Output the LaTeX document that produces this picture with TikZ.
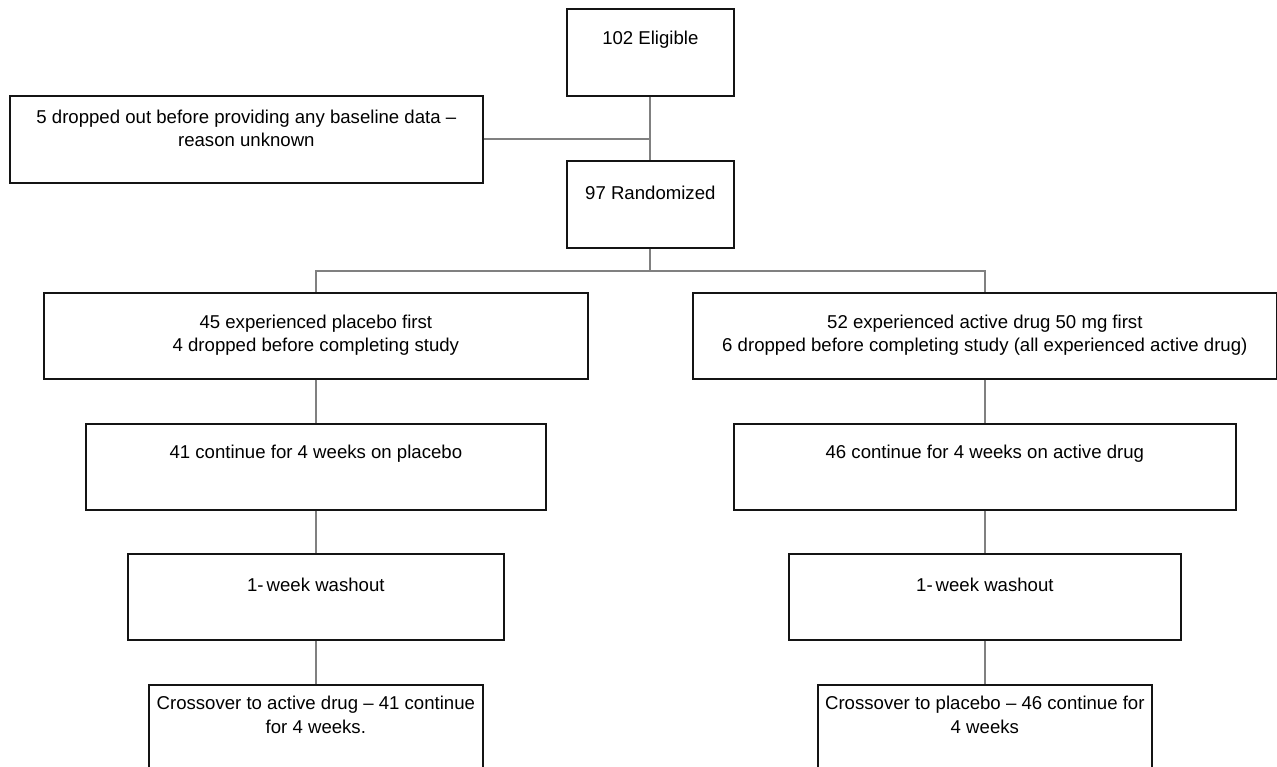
\documentclass[tikz,border=0pt]{standalone}
\usepackage{fontspec}
\setmainfont{Liberation Sans}
\usetikzlibrary{calc}
\tikzset{
  box/.style={draw=black!92, line width=1.7pt, fill=white, inner sep=0pt, anchor=north west},
  txt/.style={align=center, inner sep=0pt, font=\fontsize{18.6}{23.5}\selectfont},
  conn/.style={draw=black!50, line width=1.9pt}
}
\begin{document}
\begin{tikzpicture}[x=1pt,y=-1pt]
\useasboundingbox (0,0) rectangle (1277,767);
\clip (0,0) rectangle (1277,767);
% boxes
\node[box, minimum width=167, minimum height=87] (elig) at (566,8) {};
\node[box, minimum width=473, minimum height=87] (drop) at (9,95) {};
\node[box, minimum width=167, minimum height=87] (rand) at (566,160) {};
\node[box, minimum width=544, minimum height=86] (L1) at (43,292) {};
\node[box, minimum width=584, minimum height=86] (R1) at (692,292) {};
\node[box, minimum width=460, minimum height=86] (L2) at (85,423) {};
\node[box, minimum width=502, minimum height=86] (R2) at (733,423) {};
\node[box, minimum width=376, minimum height=86] (L3) at (127,553) {};
\node[box, minimum width=392, minimum height=86] (R3) at (788,553) {};
\node[box, minimum width=334, minimum height=95] (L4) at (148,684) {};
\node[box, minimum width=334, minimum height=95] (R4) at (817,684) {};
% texts
\node[txt] (elig-t) at ($(elig.north)+(0,32)$) {102 Eligible};
\node[txt] (drop-t) at ($(drop.north)+(0,33.5)$) {5 dropped out before providing any baseline data --\\reason unknown};
\node[txt] (rand-t) at ($(rand.north)+(0,33)$) {97 Randomized};
\node[txt] (L1-t) at ($(L1.north)+(0,43)$) {45 experienced placebo first\\4 dropped before completing study};
\node[txt] (R1-t) at ($(R1.north)+(0,43)$) {52 experienced active drug 50 mg first\\6 dropped before completing study (all experienced active drug)};
\node[txt] (L2-t) at ($(L2.north)+(0,31)$) {41 continue for 4 weeks on placebo};
\node[txt] (R2-t) at ($(R2.north)+(0,31)$) {46 continue for 4 weeks on active drug};
\node[txt] (L3-t) at ($(L3.north)+(0,32)$) {1-\hspace{3pt}week washout};
\node[txt] (R3-t) at ($(R3.north)+(0,32)$) {1-\hspace{3pt}week washout};
\node[txt] (L4-t) at ($(L4.north)+(0,31)$) {Crossover to active drug -- 41 continue\\for 4 weeks.};
\node[txt] (R4-t) at ($(R4.north)+(0,31)$) {Crossover to placebo -- 46 continue for\\4 weeks};
% connectors
\draw[conn] (elig.south) -- (rand.north);
\draw[conn] (drop.east) -- (drop.east -| elig.south);
\coordinate (br) at ($(rand.south)+(0,22)$);
\draw[conn] (rand.south) -- (br);
\draw[conn] (L1.north) |- (br) -| (R1.north);
\draw[conn] (L1.south) -- (L1.south |- L2.north);
\draw[conn] (L2.south) -- (L2.south |- L3.north);
\draw[conn] (L3.south) -- (L3.south |- L4.north);
\draw[conn] (R1.south) -- (R1.south |- R2.north);
\draw[conn] (R1.south |- R2.south) -- (R1.south |- R3.north);
\draw[conn] (R1.south |- R3.south) -- (R1.south |- R4.north);
\end{tikzpicture}
\end{document}
